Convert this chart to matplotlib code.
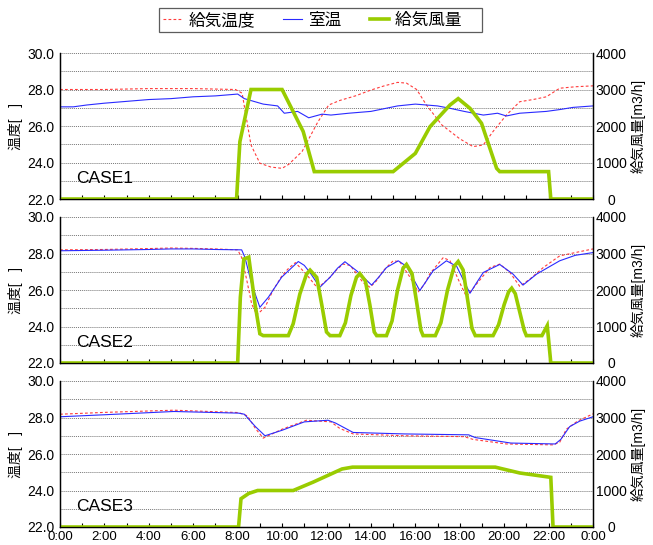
import matplotlib
matplotlib.use("Agg")
import matplotlib.pyplot as plt
from matplotlib.ticker import MultipleLocator, FixedLocator

plt.rcParams['font.family'] = ['Liberation Sans', 'Noto Sans CJK JP', 'DejaVu Sans']

# ---- data (hours, degC, m3/h) ----
cases = ["CASE1", "CASE2", "CASE3"]

t_supply1 = [0, 2, 4, 6, 7.9, 8.2, 8.6, 9.0, 9.5, 10.0, 10.3, 10.9, 11.6, 12.1, 12.6, 13.3, 14.0,
             14.6, 15.2, 15.6, 16.06, 16.5, 17.2, 18.0, 18.6, 19.06, 19.5, 20.1, 20.7, 21.3, 21.9,
             22.5, 23.2, 24]
supply1 = [28.0, 28.0, 28.05, 28.05, 28.0, 27.8, 24.96, 23.96, 23.75, 23.68, 23.9, 24.6, 26.2, 27.15,
           27.4, 27.65, 27.97, 28.2, 28.39, 28.35, 28.0, 27.15, 26.05, 25.3, 24.87, 24.96, 25.7, 26.6,
           27.33, 27.45, 27.6, 28.07, 28.15, 28.2]
t_room1 = [0, 0.6, 1.2, 2, 3, 4, 5, 6, 7, 8, 8.3, 9.15, 9.8, 10.1, 10.7, 11.2, 11.8, 12.2, 13, 14,
           14.6, 15.2, 16, 16.5, 17.0, 17.56, 18.2, 19.06, 19.4, 19.7, 20.1, 20.7, 21.3, 21.9, 22.5,
           23.1, 24]
room1 = [27.05, 27.05, 27.15, 27.25, 27.35, 27.45, 27.5, 27.6, 27.65, 27.75, 27.5, 27.2, 27.1, 26.7,
         26.8, 26.45, 26.65, 26.6, 26.7, 26.8, 26.95, 27.1, 27.2, 27.15, 27.1, 26.97, 26.8, 26.6,
         26.65, 26.7, 26.55, 26.7, 26.75, 26.8, 26.9, 27.02, 27.1]
t_flow1 = [0, 7.95, 8.1, 8.6, 10.0, 10.95, 11.45, 15.0, 16.0, 16.66, 17.56, 17.93, 18.46, 18.98,
           19.66, 19.8, 22.0, 22.1, 24]
flow1 = [0, 0, 1570, 3000, 3000, 1850, 750, 750, 1250, 1980, 2575, 2750, 2485, 2075, 840, 750, 750,
         0, 0]

t_supply2 = [0, 2, 4, 5, 6, 7, 8.0, 8.18, 8.4, 8.63, 8.86, 9.23, 9.6, 9.98, 10.3, 10.6, 11.1, 11.6,
             12.16, 12.45, 12.75, 13.06, 13.35, 13.65, 13.96, 14.25, 14.55, 15.0, 15.3, 15.76, 16.13,
             16.4, 16.66, 17.0, 17.26, 17.56, 18.0, 18.3, 18.76, 19.36, 19.8, 20.26, 20.7, 21.16,
             21.76, 22.5, 23.2, 24]
supply2 = [28.2, 28.22, 28.27, 28.3, 28.28, 28.25, 28.2, 27.78, 26.6, 25.24, 24.64, 25.05, 26.0,
           26.75, 27.2, 27.5, 26.85, 26.1, 26.7, 27.1, 27.42, 27.35, 26.9, 26.4, 26.15, 26.5, 27.05,
           27.6, 27.55, 26.7, 25.9, 26.3, 26.9, 27.4, 27.78, 27.6, 26.4, 25.64, 26.33, 27.23, 27.42,
           26.96, 26.2, 26.6, 27.23, 27.87, 28.05, 28.25]
t_room2 = [0, 2, 4, 5, 6, 7, 8.18, 8.33, 8.63, 9.0, 9.38, 9.98, 10.73, 11.0, 11.26, 11.7, 12.16,
           12.5, 12.83, 13.36, 14.03, 14.35, 14.7, 15.23, 15.6, 16.2, 16.5, 16.8, 17.4, 17.86, 18.46,
           18.76, 19.06, 19.8, 20.4, 20.85, 21.46, 22.0, 22.5, 23.2, 24]
room2 = [28.15, 28.18, 28.22, 28.25, 28.25, 28.22, 28.2, 27.78, 26.33, 25.05, 25.6, 26.7, 27.56,
         27.35, 26.95, 26.15, 26.7, 27.2, 27.55, 27.05, 26.27, 26.7, 27.23, 27.6, 27.3, 25.97, 26.5,
         27.05, 27.6, 27.3, 25.82, 26.4, 26.96, 27.4, 26.87, 26.27, 26.87, 27.25, 27.6, 27.9, 28.05]
t_flow2 = [0, 8.0, 8.12, 8.28, 8.5, 8.78, 9.0, 9.15,
           10.28, 10.5, 10.8, 11.1, 11.26, 11.56, 11.78, 12.0, 12.16,
           12.6, 12.85, 13.1, 13.35, 13.5, 13.75, 13.95, 14.15, 14.26,
           14.7, 14.95, 15.2, 15.45, 15.6, 15.85, 16.05, 16.25, 16.35,
           16.9, 17.15, 17.45, 17.75, 17.93, 18.15, 18.35, 18.55, 18.7,
           19.5, 19.75, 20.0, 20.2, 20.34, 20.5, 20.7, 20.9, 21.0,
           21.7, 21.94, 22.1, 24]
flow2 = [0, 0, 1800, 2850, 2900, 1620, 800, 750,
         750, 1075, 1890, 2435, 2545, 2345, 1620, 850, 750,
         750, 1100, 1850, 2350, 2450, 2250, 1600, 850, 750,
         750, 1150, 2000, 2600, 2700, 2450, 1700, 900, 750,
         750, 1100, 2000, 2650, 2780, 2550, 1750, 950, 750,
         750, 1050, 1600, 1950, 2050, 1900, 1400, 900, 750,
         750, 1025, 0, 0]

t_supply3 = [0, 2, 5.13, 8.04, 8.44, 8.8, 9.15, 10.0, 11.1, 12.2, 12.6, 13.2, 15.5, 18.2, 18.6, 20.1,
             22.2, 22.5, 22.8, 23.3, 24]
supply3 = [28.18, 28.28, 28.4, 28.27, 28.09, 27.4, 26.87, 27.36, 27.85, 27.76, 27.4, 27.1, 27.0,
           26.95, 26.8, 26.55, 26.5, 26.64, 27.36, 27.8, 28.2]
t_room3 = [0, 2, 5.13, 8.04, 8.3, 8.8, 9.23, 10.0, 11.0, 12.07, 12.4, 13.2, 15.5, 18.4, 18.7, 20.3,
           22.3, 22.55, 22.95, 23.4, 24]
room3 = [28.04, 28.15, 28.33, 28.24, 28.18, 27.5, 27.0, 27.3, 27.76, 27.85, 27.7, 27.18, 27.1, 27.05,
         26.9, 26.6, 26.55, 26.8, 27.5, 27.8, 28.04]
t_flow3 = [0, 8.04, 8.15, 8.5, 8.9, 10.5, 11.4, 12.7, 13.17, 19.6, 20.7, 22.1, 22.2, 24]
flow3 = [0, 0, 775, 920, 1000, 1000, 1230, 1590, 1640, 1640, 1480, 1360, 0, 0]

x_labels = ["0:00", "2:00", "4:00", "6:00", "8:00", "10:00", "12:00", "14:00", "16:00", "18:00",
            "20:00", "22:00", "0:00"]

series = [
    (t_supply1, supply1, t_room1, room1, t_flow1, flow1),
    (t_supply2, supply2, t_room2, room2, t_flow2, flow2),
    (t_supply3, supply3, t_room3, room3, t_flow3, flow3),
]

RED = "#ff3b3b"
BLUE = "#2a2aff"
GREEN = "#99cc00"

fig = plt.figure(figsize=(6.53, 5.45), dpi=100)
left, width, height = 60 / 653, 533 / 653, 146 / 545
bottoms = [1 - 199 / 545, 1 - 363 / 545, 1 - 527 / 545]

handles = None
for i, (ts, s, tr, r, tf, f) in enumerate(series):
    ax = fig.add_axes([left, bottoms[i], width, height])
    ax2 = ax.twinx()

    ls, = ax.plot(ts, s, color=RED, lw=0.8, ls=(0, (2.5, 2)))
    lr, = ax.plot(tr, r, color=BLUE, lw=0.8)
    lf, = ax2.plot(tf, f, color=GREEN, lw=2.6, solid_joinstyle="miter")
    if handles is None:
        handles = [ls, lr, lf]

    ax.set_xlim(0, 24)
    ax.set_ylim(22, 30)
    ax2.set_ylim(0, 4000)

    ax.yaxis.set_major_locator(MultipleLocator(2))
    ax.yaxis.set_minor_locator(MultipleLocator(1))
    ax.yaxis.set_major_formatter(plt.FormatStrFormatter("%.1f"))
    ax2.yaxis.set_major_locator(MultipleLocator(1000))
    ax.grid(True, axis="y", which="both", color="#777777", ls=(0, (1, 1)), lw=0.7)
    ax.set_axisbelow(True)

    ax.xaxis.set_major_locator(FixedLocator(range(0, 25, 2)))
    ax.xaxis.set_minor_locator(MultipleLocator(1))
    ax.tick_params(axis="x", which="both", direction="in", length=3, width=0.8, labelsize=9.5, pad=3)
    ax.tick_params(axis="y", which="both", length=0, labelsize=10, pad=4)
    ax2.tick_params(axis="y", length=0, labelsize=10, pad=13)
    for lab in ax2.get_yticklabels():
        lab.set_horizontalalignment("center")
    if i == 2:
        ax.set_xticklabels(x_labels)
    else:
        ax.set_xticklabels([])

    for a in (ax, ax2):
        a.spines["top"].set_visible(False)
        for side in ("left", "right", "bottom"):
            a.spines[side].set_linewidth(0.9)

    ax.set_ylabel("温度[   ]", fontsize=10, labelpad=3)
    ax2.set_ylabel("給気風量[m3/h]", fontsize=10, labelpad=3)
    ax.text(0.03, 0.14, cases[i], transform=ax.transAxes, fontsize=12.5, va="center", ha="left")

leg = fig.legend(handles, ["給気温度", "室温", "給気風量\u3000"], loc="upper center",
                 bbox_to_anchor=(0.491, 0.992), ncol=3, fontsize=12, frameon=True,
                 fancybox=False, edgecolor="#333333", handlelength=1.15, columnspacing=1.7,
                 borderpad=0.25, handletextpad=0.35, borderaxespad=0.2)
leg.get_frame().set_linewidth(0.9)

fig.savefig("out.png", dpi=100)
